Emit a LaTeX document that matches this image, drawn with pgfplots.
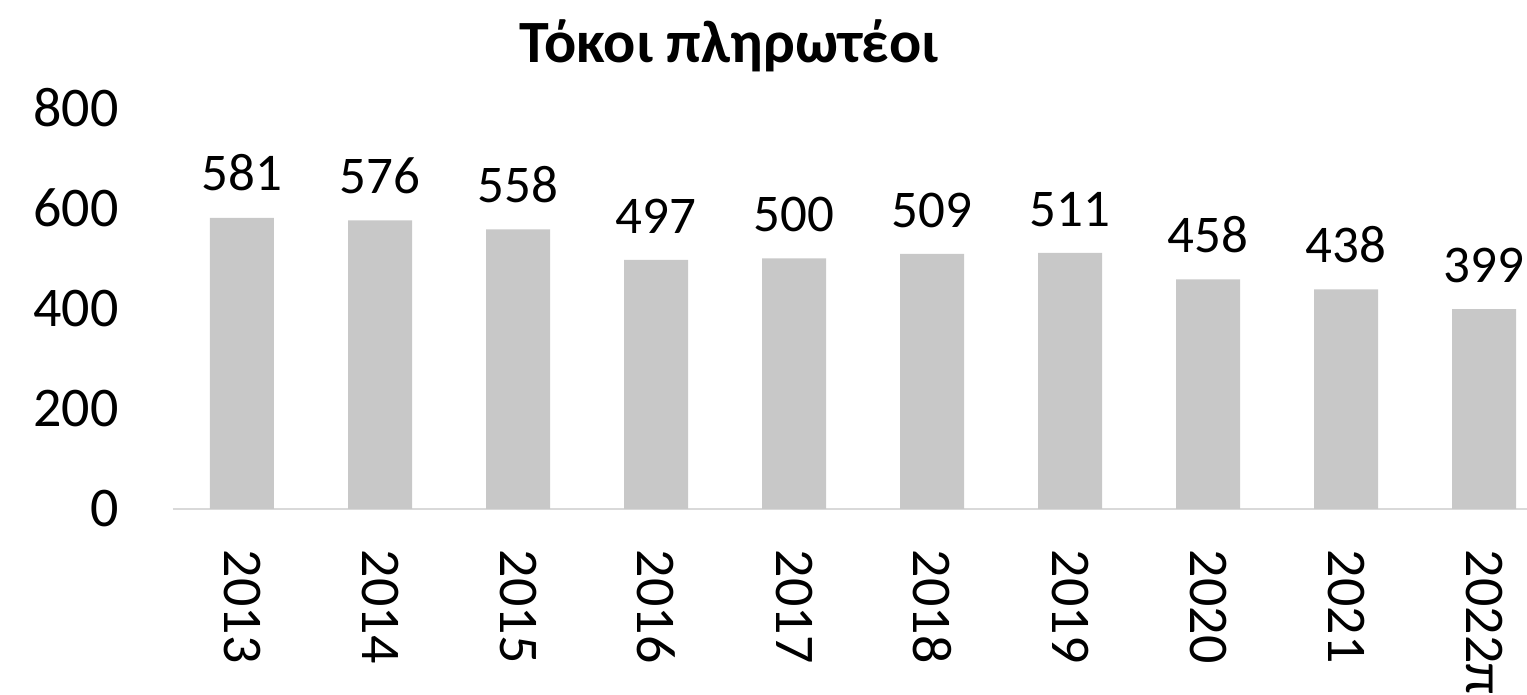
\documentclass[border=0pt]{standalone}
\usepackage{pgfplots}
\pgfplotsset{compat=1.18}
\usepackage{fontspec}
\setmainfont{Carlito}

\definecolor{barfill}{HTML}{C8C8C8}
\definecolor{axisgray}{HTML}{D9D9D9}

\begin{document}
\begin{tikzpicture}
\begin{axis}[
    scale only axis,
    width=690pt, height=200.5pt,
    xmin=-0.5, xmax=9.5,
    ymin=0, ymax=800,
    axis x line*=bottom, axis y line*=left,
    x axis line style={draw=axisgray, line width=1pt},
    y axis line style={draw=none},
    tick style={draw=none},
    ytick={0,200,400,600,800},
    xtick={0,...,9},
    xticklabels={2013,2014,2015,2016,2017,2018,2019,2020,2021,2022π},
    /pgf/number format/assume math mode=true,
    yticklabel style={font=\fontsize{28}{32}\selectfont, anchor=east, inner sep=0pt},
    yticklabel shift=27pt,
    xticklabel style={font=\fontsize{28}{32}\selectfont, rotate=-90, anchor=west, inner sep=0pt},
    xticklabel shift=16pt,
    ybar, bar width=32pt,
    nodes near coords,
    every node near coord/.append style={font=\fontsize{26.5}{30}\selectfont, anchor=south, inner sep=0pt, yshift=13pt},
]
\addplot[fill=barfill, draw=none] coordinates {
    (0,581) (1,576) (2,558) (3,497) (4,500)
    (5,509) (6,511) (7,458) (8,438) (9,399)};
\end{axis}
\node[anchor=base, font=\bfseries\fontsize{30}{36}\selectfont] at (278pt,223pt) {Τόκοι πληρωτέοι};
\pgfresetboundingbox
\path[use as bounding box] (-86.5pt,-93pt) rectangle (677pt,254.5pt);
\end{tikzpicture}
\end{document}
